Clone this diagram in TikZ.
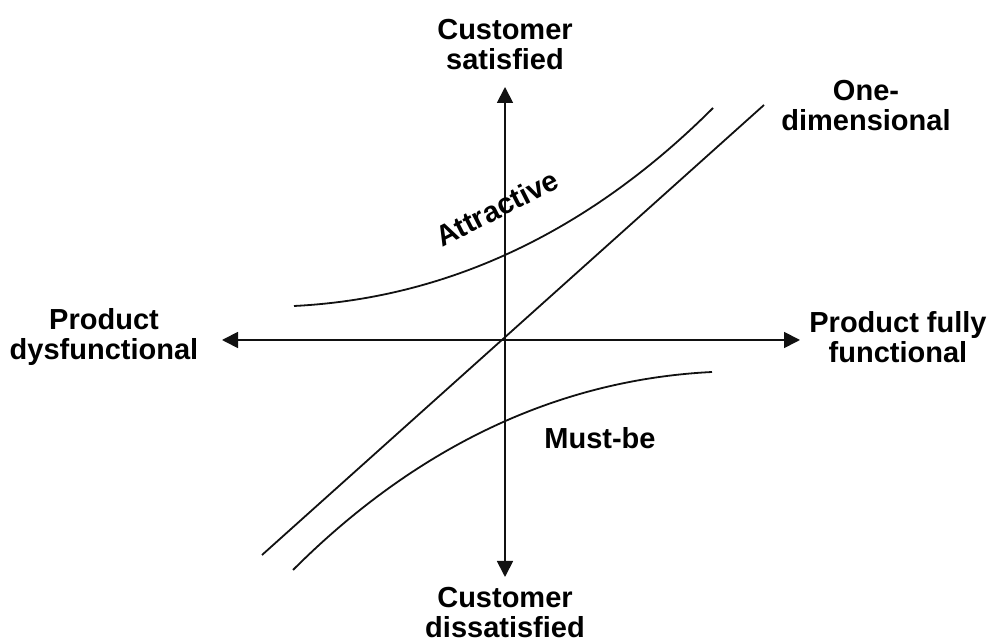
\documentclass[tikz,border=0pt]{standalone}
\usepackage{fontspec}
\setmainfont{Liberation Sans}
\usetikzlibrary{arrows.meta}
\definecolor{kanoInk}{HTML}{111111}
\tikzset{
  every picture/.style={font=\fontsize{29}{30}\selectfont\bfseries, text=black},
  kano label/.style={align=center, inner sep=0pt},
  kano axis/.style={-{Triangle[length=16pt,width=16pt]},
    draw=kanoInk, line width=1.8pt},
  kano curve/.style={draw=kanoInk, line width=1.8pt}
}

\begin{document}
\begin{tikzpicture}[x=1pt,y=1pt]
  \useasboundingbox (0,0) rectangle (991,639);
  \coordinate (O) at (505,299);
  \coordinate (left) at (222,299);
  \coordinate (right) at (800,299);
  \coordinate (top) at (505,552);
  \coordinate (bottom) at (505,62);
  % axes
  \draw[kano axis] (O) -- (left);
  \draw[kano axis] (O) -- (right);
  \draw[kano axis] (O) -- (top);
  \draw[kano axis] (O) -- (bottom);
  % curves
  \draw[kano curve] (262,84) -- (764,534);
  \draw[kano curve] (294,333) .. controls (464,341.5) and (603,421) .. (713,531);
  \draw[kano curve] (293,69) .. controls (403,179) and (542,258.5) .. (712,267);
  % labels
  \node[kano label] (satisfied) at (505,594) {Customer\\satisfied};
  \node[kano label] (dissatisfied) at (505,26) {Customer\\dissatisfied};
  \node[kano label] (dysfunctional) at (104,302) {Product\\dysfunctional};
  \node[kano label] (functional) at (898,302) {Product fully\\functional};
  \node[kano label] (onedim) at (866,533) {One-\\dimensional};
  \node[kano label, rotate=27] (attractive) at (497,431) {Attractive};
  \node[kano label] (mustbe) at (600,201) {Must-be};
\end{tikzpicture}
\end{document}
